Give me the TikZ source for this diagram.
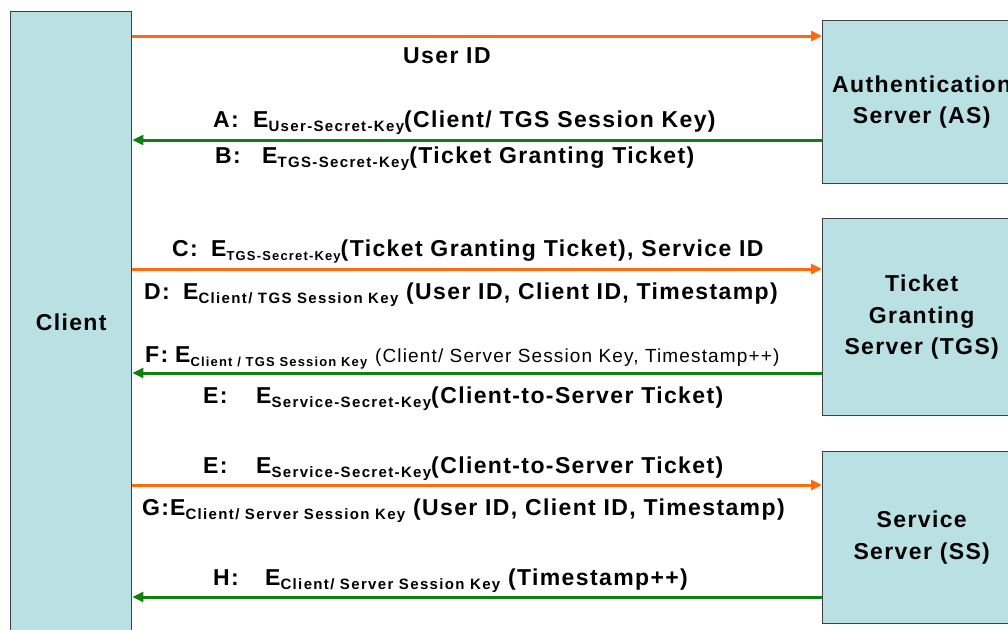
\documentclass[tikz,border=0pt]{standalone}
\usepackage{fontspec}
\usetikzlibrary{arrows.meta}
\newfontfamily\labfont{Liberation Sans}[LetterSpace=6]
\newfontfamily\subfont{Liberation Sans}[LetterSpace=9]
\newfontfamily\plainfont{Liberation Sans}[LetterSpace=6]
\definecolor{boxfill}{RGB}{185,224,227}
\definecolor{boxline}{RGB}{64,64,64}
\definecolor{reqorange}{RGB}{255,106,16}
\definecolor{repgreen}{RGB}{16,128,16}
% encrypted payload: E with the key as a lowered subscript
\newcommand\enc[1]{E\raisebox{-4pt}{\subfont\bfseries\fontsize{15}{15}\selectfont #1}}
\newcommand\encsmall[1]{E\raisebox{-4pt}{\subfont\bfseries\fontsize{13}{13}\selectfont #1}}
\tikzset{
  party/.style={draw=boxline, line width=1.4pt, fill=boxfill, inner sep=0pt,
    anchor=north west, align=center,
    font=\labfont\bfseries\fontsize{23}{31.5}\selectfont},
  msg/.style={anchor=base west, inner sep=0pt,
    font=\labfont\bfseries\fontsize{23}{26}\selectfont},
  req/.style={draw=reqorange, line width=3pt,
    -{Triangle[length=11pt,width=10pt]}},
  rep/.style={draw=repgreen, line width=3pt,
    -{Triangle[length=11pt,width=10pt]}}
}
\begin{document}
\begin{tikzpicture}[x=1pt,y=-1pt]
\useasboundingbox (0,0) rectangle (1008,629);

% parties
\node[party, minimum width=121pt, minimum height=622pt] (client) at (10,11) {Client};
\node[party, minimum width=198pt, minimum height=163pt] (as) at (822,20)
  {Authentication\\Server (AS)};
\node[party, minimum width=198pt, minimum height=197pt] (tgs) at (822,218)
  {Ticket\\Granting\\Server (TGS)};
\node[party, minimum width=198pt, minimum height=172pt] (ss) at (822,451)
  {Service\\Server (SS)};

% message levels
\coordinate (m1) at (0,36);
\coordinate (m2) at (0,140);
\coordinate (m3) at (0,269);
\coordinate (m4) at (0,373);
\coordinate (m5) at (0,485);
\coordinate (m6) at (0,597);

\draw[req] (client.east |- m1) -- (as.west |- m1);
\draw[rep] (as.west |- m2) -- (client.east |- m2);
\draw[req] (client.east |- m3) -- (tgs.west |- m3);
\draw[rep] (tgs.west |- m4) -- (client.east |- m4);
\draw[req] (client.east |- m5) -- (ss.west |- m5);
\draw[rep] (ss.west |- m6) -- (client.east |- m6);

% message labels
\node[msg] (luser) at (403,63) {User ID};
\node[msg] (la) at (213,127) {\makebox[40pt][l]{A:}\enc{User-Secret-Key}(Client/ TGS Session Key)};
\node[msg] (lb) at (215,163) {\makebox[47pt][l]{B:}\enc{TGS-Secret-Key}(Ticket Granting Ticket)};
\node[msg] (lc) at (172,256) {\makebox[39pt][l]{C:}\encsmall{TGS-Secret-Key}(Ticket Granting Ticket), Service ID};
\node[msg] (ld) at (144,299) {\makebox[39pt][l]{D:}\enc{Client/ TGS Session Key} (User ID, Client ID, Timestamp)};
\node[msg] (lf) at (145,362) {\makebox[30pt][l]{F:}\encsmall{Client / TGS Session Key} {\plainfont\mdseries\fontsize{19}{19}\selectfont(Client/ Server Session Key, Timestamp++)}};
\node[msg] (le1) at (203,403) {\makebox[53pt][l]{E:}\enc{Service-Secret-Key}(Client-to-Server Ticket)};
\node[msg] (le2) at (203,473) {\makebox[53pt][l]{E:}\enc{Service-Secret-Key}(Client-to-Server Ticket)};
\node[msg] (lg) at (142,515) {\makebox[28pt][l]{G:}\enc{Client/ Server Session Key} (User ID, Client ID, Timestamp)};
\node[msg] (lh) at (213,585) {\makebox[52pt][l]{H:}\enc{Client/ Server Session Key} (Timestamp++)};
\end{tikzpicture}
\end{document}
